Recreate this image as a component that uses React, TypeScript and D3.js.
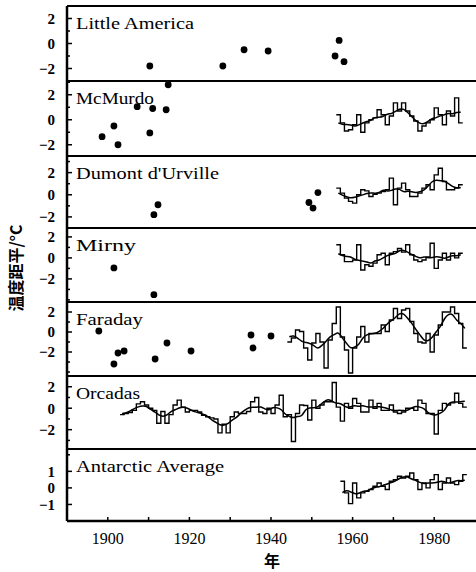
import React from "react";
import * as d3 from "d3";

// ---- data (anomalies, °C) ----
const panelNames = ["Little America", "McMurdo", "Dumont d'Urville", "Mirny", "Faraday", "Orcadas", "Antarctic Average"];

// isolated early observations [year, anomaly]
const littleAmericaDots = [[1910.3, -1.8], [1928.2, -1.8], [1933.4, -0.5], [1939.3, -0.6], [1955.7, -1.0], [1956.7, 0.25], [1957.9, -1.45]];
const mcmurdoDots = [[1898.6, -1.35], [1901.5, -0.5], [1902.5, -2.0], [1907.2, 1.05], [1910.3, -1.05], [1911.0, 0.9], [1914.3, 0.8], [1914.8, 2.8]];
const dumontDots = [[1911.3, -1.8], [1912.3, -0.9], [1949.3, -0.7], [1950.3, -1.2], [1951.5, 0.2]];
const mirnyDots = [[1901.5, -0.95], [1911.3, -3.5]];
const faradayDots = [[1897.8, 0.1], [1901.5, -3.2], [1902.5, -2.1], [1904.0, -1.9], [1911.6, -2.7], [1914.5, -1.1], [1920.4, -1.9], [1935.1, -0.3], [1935.6, -1.6], [1940.0, -0.4]];

// annual series, first year + values
const mcmurdoStart = 1956;
const mcmurdoValues = [0.4, -0.25, -0.9, -0.8, -0.4, 0.4, -1.0, -0.25, 0, 0.15, 0.8, 0.4, -0.4, 0.3, 1.35, 0.7, 1.35, 0.7, 0.3, -0.1, -0.9, -0.5, -0.25, 0, 0.95, 0.4, -0.4, 0.7, 0.3, 1.75, -0.25];
const dumontStart = 1956;
const dumontValues = [0.6, 0.15, -0.3, -0.6, -0.75, 0, 0.45, 0.35, -0.15, 0.05, 0.15, 0.3, 0.45, 1.5, -0.9, 0.6, 1.05, 0.45, -0.15, -0.15, 0.15, 0.6, 0.9, 0.45, 1.8, 2.4, 1.2, 0.45, 0.45, 0.6, 0.9];
const mirnyStart = 1956;
const mirnyValues = [1.25, 0.3, -0.35, -0.35, -0.2, 1.25, -1.15, -0.65, -0.8, -0.5, 0.3, 0.45, -0.65, 0.45, 0.6, 0.9, 0.55, 1.25, 0.3, -0.2, -0.35, -0.2, 0.1, 1.4, -1.0, -0.2, 0.45, -0.2, 0.45, 0, 0.45];
const faradayStart = 1944;
const faradayValues = [-1.0, -0.6, 0.2, 0.05, -1.6, -2.8, -1.1, -0.15, -1.0, -3.6, -0.8, 0.85, 2.5, -0.5, -1.8, -4.1, -1.6, -0.5, 0.55, -1.0, -0.15, -0.15, -0.15, 0.7, 0.05, 1.2, 2.35, 1.35, 2.2, 2.35, 1.05, -0.15, -1.0, -1.1, -0.15, -2.0, -0.3, 0.7, 2.0, 2.0, 2.5, 1.85, 0.85, -1.6];
const orcadasStart = 1903;
const orcadasValues = [-0.6, -0.5, -0.4, -0.2, 0.4, 0.6, 0.3, 0, -0.2, -1.4, -0.3, -1.4, -0.6, 0.3, 0.75, 0.1, -0.35, -0.2, -0.2, -0.35, -0.65, -0.8, -0.9, -1.0, -2.3, -1.5, -2.3, -0.8, -0.35, -0.5, -0.5, -0.3, 0.6, 1.0, -0.35, -0.5, 0, -0.5, 0.3, 1.2, -0.8, -0.6, -3.1, -0.5, 0.3, 0.25, -1.1, 0.75, 0, 0.3, 0.6, 0.6, 2.4, 0.1, -1.2, 0.45, 0, 0.9, 0.45, -0.35, -0.35, 0.75, 0, 0.45, -0.2, -0.2, 0.3, -0.35, -0.5, -0.35, 0, 0, -0.2, 0.75, 0.45, -0.5, -0.5, -2.4, -0.2, 0.45, 0.3, 0.5, 1.4, 0.45, 0.1];
const averageStart = 1957;
const averageValues = [0.4, -0.3, -0.95, 0.3, -0.6, -0.3, -0.2, -0.1, 0.1, 0.3, 0.1, -0.1, 0.4, 0.5, 0.7, 0.6, 0.7, 0.9, 0.5, -0.1, 0.3, 0, 0.5, 0.8, -0.1, 0.3, 0.6, 0.3, 0.2, 0.4, 0.8];

const yDomains = [[-3, 3], [-2.9, 3.1], [-3, 3.5], [-4.2, 2.85], [-4.4, 3], [-3.8, 3], [-2, 2.35]];
const yTickValues = [[-2, 0, 2], [-2, 0, 2], [-2, 0, 2], [-2, 0, 2], [-2, 0, 2], [-2, 0, 2], [-1, 0, 1]];
const xTickLabels = [1900, 1920, 1940, 1960, 1980];

// ---- layout ----
const W = 476, H = 572;
const left = 67, right = 475, top = 6;
const panelHeights = [75, 75, 72, 74, 74, 73, 72];
const titleWidths = [118, 78, 143, 60, 67, 64, 148];

const panels = panelNames.map((name, i) => ({
  name,
  dots: [littleAmericaDots, mcmurdoDots, dumontDots, mirnyDots, faradayDots, null, null][i],
  series: [null, [mcmurdoStart, mcmurdoValues], [dumontStart, dumontValues], [mirnyStart, mirnyValues], [faradayStart, faradayValues], [orcadasStart, orcadasValues], [averageStart, averageValues]][i] as any,
  domain: yDomains[i],
  ticks: yTickValues[i],
}));

const serif = "Times New Roman, Liberation Serif, serif";
const cjk = "Noto Sans CJK SC, sans-serif";

function runningMean(values: number[], half: number) {
  return values.map((_, i) => d3.mean(values.slice(Math.max(0, i - half), Math.min(values.length, i + half + 1))) as number);
}

export default function App() {
  const x = d3.scaleLinear().domain([1890, 1990]).range([left, right]);
  const tops: number[] = [];
  panelHeights.reduce((acc, h) => { tops.push(acc); return acc + h; }, top);
  const bottom = top + d3.sum(panelHeights);

  return (
    <div style={{ position: "absolute", left: 0, top: 0 }}>
      <svg width={W} height={H} style={{ display: "block", background: "#fff" }}>
        {panels.map((p, i) => {
          const y0 = tops[i], y1 = y0 + panelHeights[i];
          const y = d3.scaleLinear().domain(p.domain).range([y1, y0]);
          let stepPath = null, smoothPath = null;
          if (p.series) {
            const [start, vals] = p.series as [number, number[]];
            const pts = vals.map((v, k) => [start + k, v]);
            pts.push([start + vals.length, vals[vals.length - 1]]);
            const step = d3.line<number[]>().x(d => x(d[0])).y(d => y(d[1])).curve(d3.curveStepAfter);
            stepPath = step(pts);
            const sm = runningMean(vals, 2).map((v, k) => [start + k + 0.5, v]);
            const smooth = d3.line<number[]>().x(d => x(d[0])).y(d => y(d[1])).curve(d3.curveBasis);
            smoothPath = smooth(sm);
          }
          const minor = d3.range(Math.ceil(p.domain[0]), Math.floor(p.domain[1]) + 1);
          return (
            <g key={p.name}>
              <line x1={left} x2={W} y1={y0} y2={y0} stroke="#000" strokeWidth={2} />
              {minor.map(t => (
                <line key={t} x1={left} x2={left + (p.ticks.includes(t) ? 5 : 3)} y1={y(t)} y2={y(t)} stroke="#000" strokeWidth={1.5} />
              ))}
              {p.ticks.map(t => (
                <text key={t} x={55} y={y(t)} dy="0.36em" textAnchor="end" fontFamily={serif} fontWeight="bold" fontSize={15}>
                  {t < 0 ? "−" + Math.abs(t) : String(t)}
                </text>
              ))}
              <text x={76} y={y0 + 23} fontFamily={serif} fontSize={17} textLength={titleWidths[i]} lengthAdjust="spacingAndGlyphs">{p.name}</text>
              {p.dots && p.dots.map((d, k) => (
                <circle key={k} cx={x(d[0])} cy={y(d[1])} r={3.4} fill="#000" />
              ))}
              {stepPath && <path d={stepPath} fill="none" stroke="#000" strokeWidth={1.4} />}
              {smoothPath && <path d={smoothPath} fill="none" stroke="#000" strokeWidth={1.5} />}
            </g>
          );
        })}
        {/* frame */}
        <line x1={left} x2={left} y1={top} y2={bottom} stroke="#000" strokeWidth={2.5} />
        <line x1={left} x2={W} y1={bottom} y2={bottom} stroke="#000" strokeWidth={2.5} />
        {d3.range(1900, 1990, 10).map(t => (
          <line key={t} x1={x(t)} x2={x(t)} y1={bottom} y2={bottom - 4} stroke="#000" strokeWidth={1.5} />
        ))}
        {xTickLabels.map(t => (
          <text key={t} x={x(t)} y={544} textAnchor="middle" fontFamily={serif} fontSize={16}>{t}</text>
        ))}
        <text x={272} y={567} textAnchor="middle" fontFamily={cjk} fontWeight="bold" fontSize={16}>年</text>
        <text transform="translate(22,268) rotate(-90)" textAnchor="middle" fontFamily={cjk} fontWeight="bold" fontSize={16}>温度距平/°C</text>
      </svg>
    </div>
  );
}
